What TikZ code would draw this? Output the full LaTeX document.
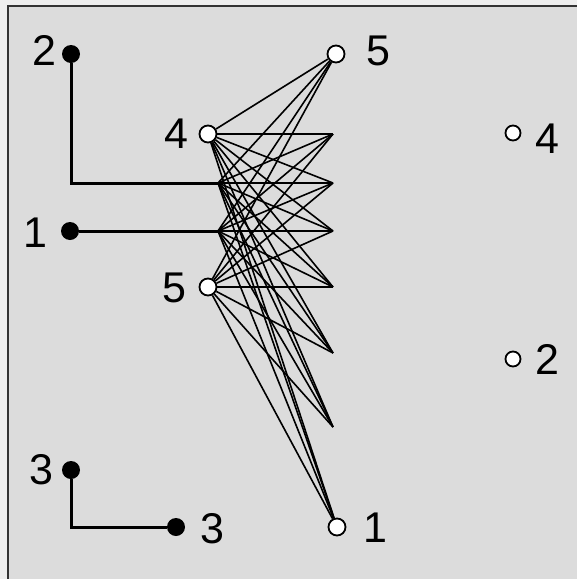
\documentclass[tikz,border=0pt]{standalone}
\usepackage{fontspec}
\setmainfont{Liberation Sans}
\definecolor{outerbg}{HTML}{EEEEEE}
\definecolor{innerbg}{HTML}{DCDCDC}
\definecolor{frame}{HTML}{333333}
\begin{document}
\begin{tikzpicture}[x=1pt,y=-1pt,
  blk/.style={circle, fill=black, inner sep=0pt, minimum size=18pt},
  wht/.style={circle, draw=black, fill=white, line width=1.8pt, inner sep=0pt, minimum size=17pt},
  whs/.style={wht, minimum size=15pt},
  lbl/.style={font=\fontsize{43}{43}\selectfont, inner sep=0pt},
  heavy/.style={line width=3pt},
  edge/.style={line width=1.6pt}]
\useasboundingbox (0,0) rectangle (577,579);
\clip (0,0) rectangle (577,579);
\fill[outerbg] (0,0) rectangle (577,579);
\draw[fill=innerbg, draw=frame, line width=2pt] (8,6) rectangle (600,600);
% white nodes
\node[wht] (A) at (208,134) {};
\node[wht] (D) at (208,287) {};
\node[wht] (T5) at (336,54) {};
\node[wht] (B1) at (337,527) {};
\node[whs] (W4) at (513,133) {};
\node[whs] (W2) at (513,359) {};
% junctions and bends
\coordinate (J1) at (218,183);
\coordinate (J2) at (218,231);
\coordinate (R2) at (333,134);
\coordinate (R3) at (333,183);
\coordinate (R4) at (333,231);
\coordinate (R5) at (333,287);
\coordinate (R6) at (333,353);
\coordinate (R7) at (333,427);
% black nodes
\node[blk] (K2) at (71,54) {};
\node[blk] (K1) at (70,231) {};
\node[blk] (K3a) at (71,470) {};
\node[blk] (K3b) at (176,527) {};
\coordinate (C2) at (71,183);
\coordinate (C3) at (71,527);
% edges
\foreach \l in {A,J1,J2,D}{
  \foreach \r in {T5,R2,R3,R4,R5,R6,R7,B1}{
    \draw[edge] (\l) -- (\r);
  }
}
\draw[heavy] (K2) -- (C2) -- (J1);
\draw[heavy] (K1) -- (J2);
\draw[heavy] (K3a) -- (C3) -- (K3b);
% labels
\node[lbl] (l2) at (44,50) {2};
\node[lbl] (l1) at (35,233) {1};
\node[lbl] (l3a) at (41,470) {3};
\node[lbl] (l3b) at (212,529) {3};
\node[lbl] (l4) at (176,134) {4};
\node[lbl] (l5) at (174,288) {5};
\node[lbl] (l5t) at (378,51) {5};
\node[lbl] (l1b) at (375,528) {1};
\node[lbl] (l4r) at (547,139) {4};
\node[lbl] (l2r) at (547,359) {2};
\end{tikzpicture}
\end{document}
